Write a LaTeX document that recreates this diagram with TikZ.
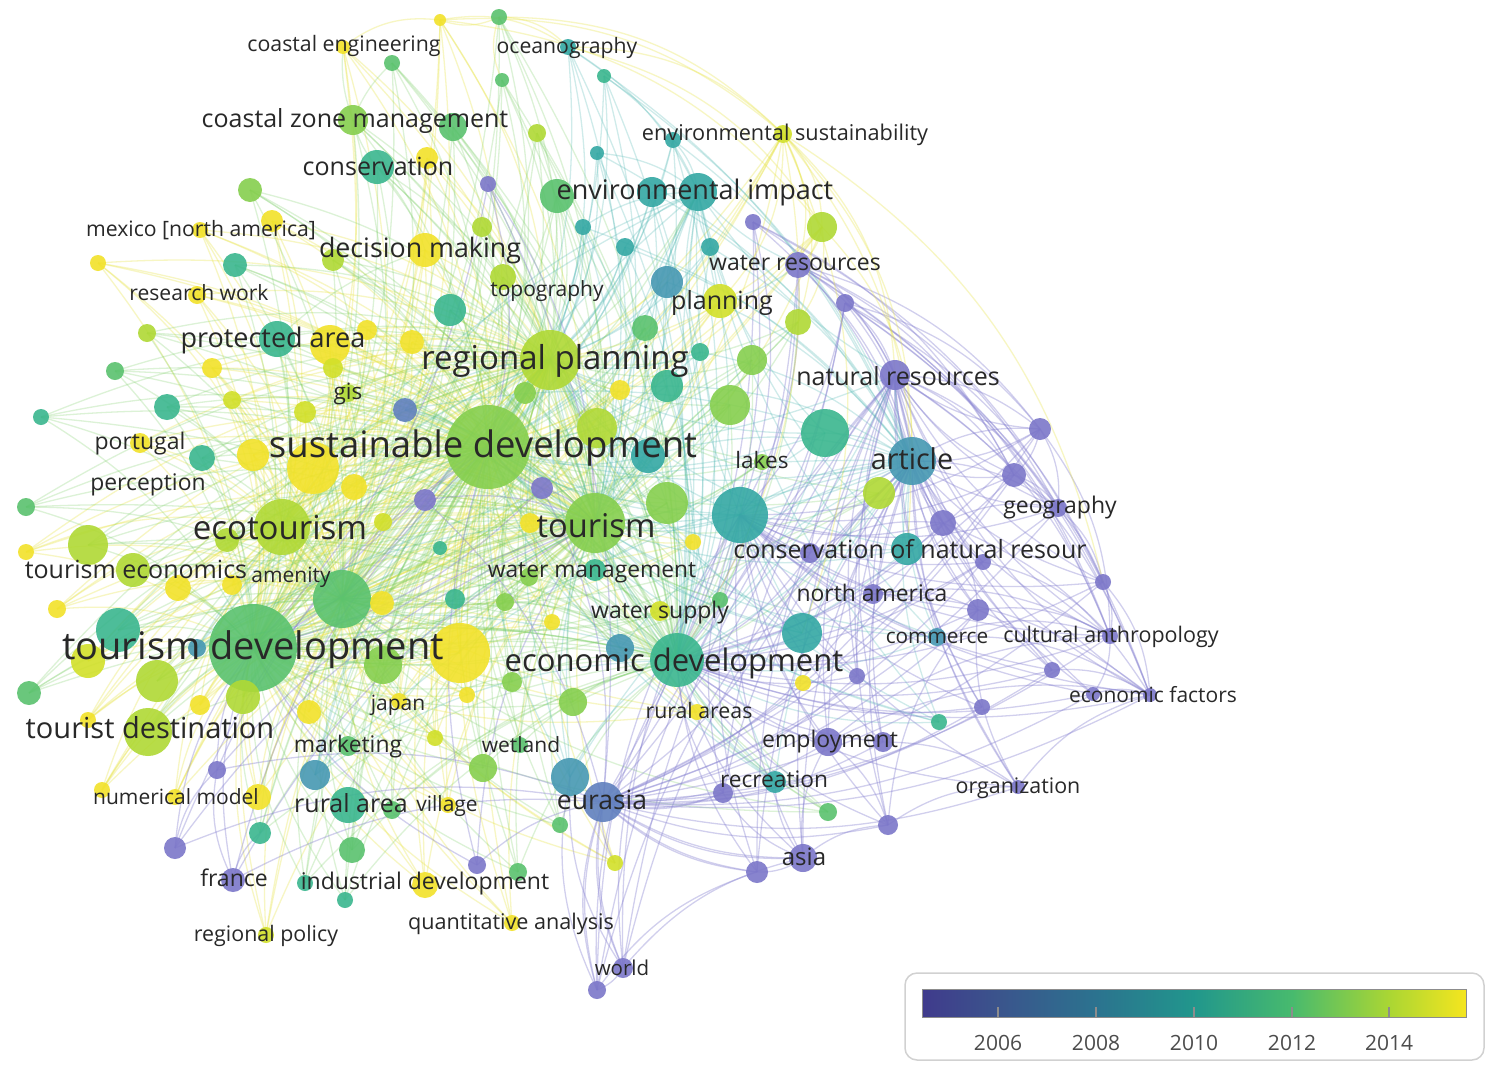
\documentclass[tikz,border=0pt]{standalone}
\usepackage{fontspec}
\setmainfont{Open Sans}
\pgfdeclarelayer{back}
\pgfdeclarelayer{bg}
\pgfsetlayers{back,bg,main}
\pgfdeclarehorizontalshading{viridis}{100bp}{rgb(0bp)=(0.25,0.23,0.55); rgb(25bp)=(0.25,0.23,0.55); rgb(32bp)=(0.23,0.33,0.55); rgb(41bp)=(0.17,0.45,0.56); rgb(50bp)=(0.13,0.59,0.55); rgb(59bp)=(0.28,0.73,0.43); rgb(68bp)=(0.67,0.84,0.2); rgb(75bp)=(0.96,0.9,0.12); rgb(100bp)=(0.96,0.9,0.12)}
\definecolor{c05}{RGB}{124,119,201}
\definecolor{c06}{RGB}{96,128,190}
\definecolor{c07}{RGB}{70,152,178}
\definecolor{c08}{RGB}{52,168,164}
\definecolor{c09}{RGB}{58,182,142}
\definecolor{c10}{RGB}{90,194,110}
\definecolor{c11}{RGB}{134,207,78}
\definecolor{c12}{RGB}{176,217,53}
\definecolor{c13}{RGB}{210,224,42}
\definecolor{c14}{RGB}{242,226,42}
\definecolor{labc}{RGB}{40,40,40}
\definecolor{ecy}{RGB}{232,228,70}
\definecolor{ecg}{RGB}{120,205,100}
\definecolor{ect}{RGB}{70,180,175}
\definecolor{ecp}{RGB}{135,130,210}
\tikzset{
  vdot/.style={circle, inner sep=0pt, outer sep=0pt, fill=#1, fill opacity=0.9, draw=none},
  lab/.style={text=labc, inner sep=0pt, anchor=base},
  ey/.style={draw=ecy, line width=1.3pt, opacity=0.32},
  eg/.style={draw=ecg, line width=1.3pt, opacity=0.26},
  et/.style={draw=ect, line width=1.3pt, opacity=0.26},
  ep/.style={draw=ecp, line width=1.3pt, opacity=0.38},
  yearlab/.style={text=black!70, inner sep=0pt, font=\fontsize{21}{21}\selectfont}
}
\begin{document}
\begin{tikzpicture}[x=1pt,y=-1pt]
\begin{pgfonlayer}{back}
\fill[white] (0,0) rectangle (1494,1071);
\end{pgfonlayer}
\useasboundingbox (0,0) rectangle (1494,1071);
% ---------- nodes (large first) ----------
\foreach \nn/\x/\y/\r/\col in {
 td/253/648/44/c10, sd/488/447/42/c11, rp/550/360/30/c12, tour/595/523/30/c11,
 a84/460/653/30/c14, a69/342/599/29/c10, eco/282/527/28/c12, a56/740/515/28/c08,
 ed/677/660/27/c09, a50/313/468/26/c14, a38/825/433/24/c09, art/912/461/24/c07,
 tdst/148/732/24/c12, a82/118/630/22/c09, a57/667/503/21/c11, a87/157/681/21/c12,
 a37/730/405/20/c11, a39/597/428/20/c12, a28/330/345/20/c14, a64/88/545/20/c12,
 a77/802/633/20/c08, eur/603/802/20/c06,
 a1/440/20/6/c14, a2/499/17/8/c10, ce/343/47/7/c14, a3/392/63/8/c10, oc/568/47/8/c08,
 a4/604/76/7/c09, a5/502/80/7/c10, czm/353/120/15/c11, a6/453/127/14/c10, a7/537/133/9/c12,
 es/783/134/9/c13, a8/673/140/8/c08, a9/597/153/7/c08, cons/377/167/17/c09, a10/427/158/11/c14,
 a11/488/184/8/c05, ei1/557/196/17/c10, ei2/652/192/15/c08, ei/698/192/19/c08, a12/753/222/8/c05,
 a13/822/227/15/c12, a14/583/227/8/c08, a15/625/247/9/c08, a16/710/247/9/c08, a17/250/190/12/c11,
 a18/272/221/11/c14, mex/200/230/8/c14, dm/425/250/17/c14, a19/333/260/11/c12, a20/482/227/10/c12,
 a21/235/265/12/c09, a22/98/263/8/c14, wr/798/265/13/c05, rw/197/295/9/c14, topo/503/277/13/c12,
 a23/667/282/16/c07, plan/720/301/17/c13, a24/845/303/9/c05, a25/798/322/13/c12, a26/450/310/16/c09,
 a27/147/333/9/c12, pa/277/339/18/c09, a29/367/330/10/c14, a30/412/342/12/c14, a31/645/328/13/c10,
 a32/700/352/9/c09, a33/752/360/15/c11, a34/667/386/16/c09, a35/620/390/10/c14, a36/525/393/11/c11,
 nr/895/375/15/c05, a40/115/371/9/c10, a41/41/417/8/c09, a42/167/407/13/c09, a43/212/368/10/c14,
 a44/232/400/9/c13, a45/333/368/10/c13, gis/348/393/9/c12, a46/305/412/11/c13, a47/405/410/12/c06,
 port/140/443/10/c14, a48/202/458/13/c09, a49/253/455/16/c14, a51/648/456/17/c08, a52/354/487/13/c14,
 a53/425/500/11/c05, a54/542/488/11/c05, lakes/762/462/8/c11, a55/879/493/16/c12,
 b1/1040/429/11/c05, b2/1014/475/12/c05, geo/1058/508/9/c05, b3/943/523/13/c05, b4/983/562/8/c05,
 b5/1103/582/8/c05, b6/978/610/11/c05, ca/1110/636/8/c05, b7/1052/670/8/c05, ef/1150/695/7/c05,
 b8/1093/694/7/c05, cnr/907/549/16/c08, b9/810/553/10/c05, a58/530/523/10/c14, a59/693/542/8/c14,
 a60/227/540/12/c12, a61/440/548/7/c09, a62/383/522/9/c13, a63/26/507/9/c10, a65/26/552/8/c14,
 te/133/570/17/c12, a66/178/588/13/c14, a67/232/585/10/c14, a68/57/609/9/c14, a70/382/603/12/c14,
 a71/455/599/10/c09, wm/595/570/11/c09, a72/529/577/9/c11, ws/660/611/10/c13, a73/505/602/9/c11,
 a74/552/622/8/c14, a75/620/648/14/c07, a76/720/600/8/c10, na/873/594/10/c05, com/937/637/9/c07,
 a78/857/676/8/c05, a79/803/683/8/c14, a80/982/707/8/c05, a81/939/722/8/c09, a83/197/648/9/c07,
 a85/383/665/19/c11, a86/88/661/17/c13, a88/29/693/12/c10, a89/243/697/17/c12, a90/200/705/10/c14,
 a91/309/712/12/c14, jap/399/701/8/c14, a92/467/695/8/c14, a93/512/682/10/c11, a94/573/702/14/c11,
 ra/697/712/8/c14, a95/88/720/8/c14, mkt/348/746/10/c10, a96/435/738/8/c13, wet/520/745/8/c10,
 a97/483/768/14/c11, emp/828/742/14/c05, a98/883/742/10/c05, a99/217/770/9/c05, a100/315/775/15/c07,
 a101/570/777/19/c07, rec/775/782/11/c08, a102/723/793/10/c05, a103/828/812/9/c10, org/1018/787/7/c05,
 a104/888/825/10/c05, nm1/102/790/8/c14, nm/175/797/8/c14, a105/258/797/13/c14, rav/348/805/18/c09,
 a106/392/810/9/c10, a107/448/805/8/c14, a108/560/825/8/c10, a109/260/833/11/c09, a110/175/848/11/c05,
 a111/352/850/13/c10, fr/233/880/12/c05, a112/305/883/8/c09, id/425/885/13/c14, a113/477/865/9/c05,
 a114/518/872/9/c10, a115/345/900/8/c09, a116/615/863/8/c13, asia/803/858/14/c05, a117/757/872/11/c05,
 qa/512/923/8/c14, rpol/266/935/8/c13, world/623/968/10/c05, a118/597/990/9/c05}
 {\node[vdot=\col, minimum size={2*\r pt}] (\nn) at (\x,\y) {};}
% ---------- edges ----------
\begin{pgfonlayer}{bg}
\foreach \a in {a1,ce,a10,a18,mex,dm,a22,rw,a28,a29,a30,a35,a43,port,a49,a50,a52,a58,a59,a65,a66,a67,a68,a70,a74,a84,a90,a91,jap,a92,ra,a95,nm1,nm,a105,a107,id,qa,es,plan,a13,a44,a45,a46,a62,a86,a96,a116,rpol}
 {\foreach \b in {sd,td,eco,tour,rp,a69} {\draw[ey] (\a.center) to[bend left=16] (\b.center);}}
\foreach \a in {a2,a3,a5,czm,a6,a7,cons,ei1,a17,a19,a20,a21,topo,a26,a27,pa,a31,a33,a36,a37,a39,a40,a41,a42,gis,a48,a57,lakes,a55,a60,a61,a63,a64,te,a71,wm,a72,ws,a73,a76,a82,a85,a87,a88,a89,a93,a94,tdst,mkt,wet,a97,a106,a108,a109,a111,a112,a114,a115,a103,a25}
 {\foreach \b in {sd,td,rp,ed,tour,a69} {\draw[eg] (\a.center) to[bend left=16] (\b.center);}}
\foreach \a in {oc,a4,a8,a9,ei2,a14,a15,a16,a23,a32,a34,a38,a51,a56,cnr,a75,a77,com,a81,rec,a100,a101,a47,a83}
 {\foreach \b in {sd,tour,ei,art,ed,rp} {\draw[et] (\a.center) to[bend left=16] (\b.center);}}
\foreach \a in {a12,wr,a24,b1,b2,geo,b3,b4,b5,b6,ca,b7,ef,b8,b9,na,a78,a80,emp,a98,a102,org,a104,asia,a117,world,a118}
 {\foreach \b in {art,nr,ed,eur,a56} {\draw[ep] (\a.center) to[bend left=16] (\b.center);}}
\foreach \a in {a11,a53,a54,a99,a110,fr,a113}
 {\foreach \b in {sd,td,eur,tour} {\draw[ep] (\a.center) to[bend left=16] (\b.center);}}
% hub links
\foreach \a/\b in {sd/td,sd/tour,sd/rp,sd/ed,td/eco,td/tour,rp/tour,ed/tour,ei/sd,ei/rp,rp/td,eco/sd,eco/tour,td/ed,cons/czm,cons/dm,czm/ce,czm/a3,pa/dm,pa/eco,a84/td,a69/sd,a69/eco,a69/ed}
 {\draw[eg] (\a.center) to[bend left=12] (\b.center);}
\foreach \a/\b in {art/ed,art/nr,art/sd,nr/ed,nr/sd,art/tour,nr/ei,wr/ei,wr/plan,a56/sd,a56/tour,a56/art,a56/ed}
 {\draw[et] (\a.center) to[bend left=12] (\b.center);}
% right purple cluster and outer arcs
\foreach \a/\b in {b1/b2,b1/geo,b2/geo,b1/ca,b2/b5,geo/b5,b5/ef,b5/ca,b3/b6,b6/ca,b7/ef,b8/ef,b3/geo,nr/b1,nr/b2,nr/geo,nr/ef,nr/ca,art/b1,art/geo,b6/b7,ca/b8,org/b6,org/ef,a104/org,a104/b6,a98/org,emp/a104,asia/a104,asia/a117,asia/a102,asia/emp,asia/rec,asia/eur,world/eur,world/asia,world/a118,a118/eur,a118/a117,a117/eur,a102/eur,world/a101,a118/a101,a116/eur,fr/a109,fr/a99,a110/a99,wr/b1,wr/b2,wr/geo,a24/b1,a24/ca,a24/ef,a12/b2,b9/b3,na/b6,na/ca,na/ef,com/ca,com/ef,b3/ef,b4/ca,emp/ca,emp/ef,a12/b5,wr/ef,wr/ca,a24/b5}
 {\draw[ep] (\a.center) to[bend left=18] (\b.center);}
\foreach \a/\b in {es/a13,es/a25,es/plan,es/wr,es/art,es/nr,es/cnr,es/ed,es/a77,es/b5,a1/es,a1/a13,oc/es,oc/a13,ce/a1,a2/a1,a2/oc,a5/a2,a13/wr,a13/a25,a13/art,a2/es,a1/oc}
 {\draw[ey] (\a.center) to[bend left=22] (\b.center);}
\end{pgfonlayer}
% ---------- labels ----------
\foreach \i/\x/\y/\s/\txt in {
 1/344/44/21.3/coastal engineering, 2/567/46/21.2/oceanography, 3/355/119/25/coastal zone management,
 4/785/133/21.7/environmental sustainability, 5/378/167/25/conservation, 6/695/190/27/environmental impact,
 7/201/229/21.2/{mexico [north america]}, 8/420/248/26.8/decision making, 9/795/263/23/water resources,
 10/199/293/21.1/research work, 11/547/289/21/topography, 12/722/301/25/planning,
 13/273/338/27/protected area, 14/555/358/33/regional planning, 15/898/377/25/natural resources,
 16/348/392/22.5/gis, 17/140/442/23/portugal, 18/483/445/36.5/sustainable development,
 19/762/461/22.6/lakes, 20/912/460/28.8/article, 21/148/483/22.9/perception,
 22/1060/506/23/geography, 23/280/528/33/ecotourism, 24/596/526/32.7/tourism,
 25/910/550/25/conservation of natural resour, 26/136/570/25/tourism economics, 27/291/575/21/amenity,
 28/592/570/22.8/water management, 29/872/594/22.9/north america, 30/660/611/23/water supply,
 31/937/636/20.8/commerce, 32/1111/635/21.5/cultural anthropology, 33/253/647/38/tourism development,
 34/674/661/31/economic development, 35/1153/695/21/economic factors, 36/398/703/21/japan,
 37/699/711/21.3/rural areas, 38/150/729/29/tourist destination, 39/348/745/22.9/marketing,
 40/521/745/21/wetland, 41/830/740/23/employment, 42/774/780/22.7/recreation,
 43/1018/786/21.4/organization, 44/176/797/21/numerical model, 45/351/804/25/rural area,
 46/447/804/21/village, 47/602/800/26.5/eurasia, 48/804/857/24/asia, 49/234/879/23/france,
 50/425/882/23/industrial development, 51/511/922/21.6/quantitative analysis, 52/266/934/21.4/regional policy,
 53/622/969/20.5/world}
 {\node[lab, font=\fontsize{\s}{\s}\selectfont] (L\i) at (\x,{\y+0.34*\s}) {\txt};}
% ---------- legend ----------
\draw[rounded corners=12pt, draw=black!18, line width=1.5pt, fill=white] (905,973) rectangle (1484,1060);
\shade[shading=viridis] (922,989) rectangle (1466,1017);
\draw[black!45, line width=1pt] (922,989) rectangle (1466,1017);
\foreach \x/\yr in {998/2006,1096/2008,1194/2010,1292/2012,1389/2014}
 {\draw[black!45, line width=1.2pt] (\x,1007) -- (\x,1017);
  \node[yearlab] (Y\yr) at (\x,1043) {\yr};}
\end{tikzpicture}
\end{document}
